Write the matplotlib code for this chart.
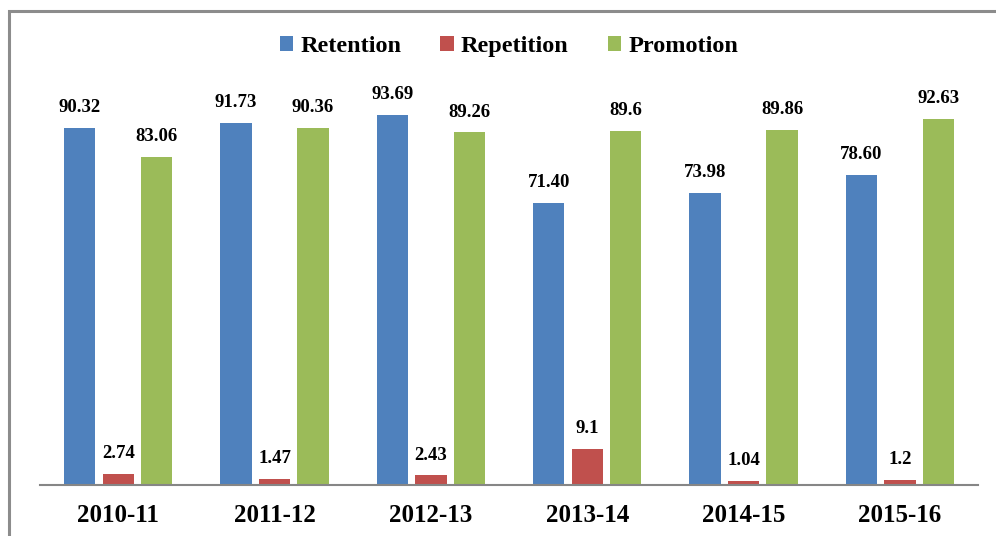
import matplotlib
matplotlib.use("Agg")
import matplotlib.pyplot as plt
import numpy as np
from matplotlib.patches import Rectangle

# --- Data ---
years = ["2010-11", "2011-12", "2012-13", "2013-14", "2014-15", "2015-16"]
retention = [90.32, 91.73, 93.69, 71.40, 73.98, 78.60]
repetition = [2.74, 1.47, 2.43, 9.1, 1.04, 1.2]
promotion = [83.06, 90.36, 89.26, 89.6, 89.86, 92.63]
ret_labels = ["90.32", "91.73", "93.69", "71.40", "73.98", "78.60"]
rep_labels = ["2.74", "1.47", "2.43", "9.1", "1.04", "1.2"]
pro_labels = ["83.06", "90.36", "89.26", "89.6", "89.86", "92.63"]

plt.rcParams['font.family'] = ['Liberation Serif', 'DejaVu Serif']
plt.rcParams['font.weight'] = 'bold'

fig = plt.figure(figsize=(9.96, 5.36), dpi=100)
ax = fig.add_axes([0.0402, 0.0951, 0.9418, 0.737])

x = np.arange(len(years))
w = 0.2
off = 0.246
series = [
    (retention, ret_labels, "#4F81BD", "Retention", -off),
    (repetition, rep_labels, "#C0504D", "Repetition", 0),
    (promotion, pro_labels, "#9BBB59", "Promotion", off),
]
handles = []
for vals, labs, col, name, dx in series:
    bars = ax.bar(x + dx, vals, width=w, color=col, label=name, zorder=2)
    handles.append(bars)
    for xi, v, t in zip(x + dx, vals, labs):
        ax.annotate(t, (xi, v), xytext=(0, 8.5), textcoords="offset points",
                    ha="center", va="bottom", fontsize=13.5, fontweight="bold")

ax.set_xlim(-0.5, len(years) - 0.5)
ax.set_ylim(0, 100)
ax.set_xticks(x)
ax.set_xticklabels(years, fontsize=18, fontweight="bold")
ax.tick_params(axis="x", length=0, pad=14)
ax.set_yticks([])
for s in ["left", "right", "top"]:
    ax.spines[s].set_visible(False)
ax.spines["bottom"].set_color("#868686")
ax.spines["bottom"].set_linewidth(1.5)

fig.legend(handles=handles, loc="center", bbox_to_anchor=(0.511, 0.913), ncol=3,
           frameon=False, prop={"size": 17.5, "weight": "bold"},
           handlelength=0.55, handleheight=0.55, handletextpad=0.3, columnspacing=1.6)

# outer chart border (cropped: only left and top visible)
fig.patches.append(Rectangle((9 / 996, -0.1), 1.2, 1 - 11 / 536 + 0.1,
                             transform=fig.transFigure, fill=False,
                             edgecolor="#8c8c8c", linewidth=2.2))

fig.savefig("out.png", dpi=100)
